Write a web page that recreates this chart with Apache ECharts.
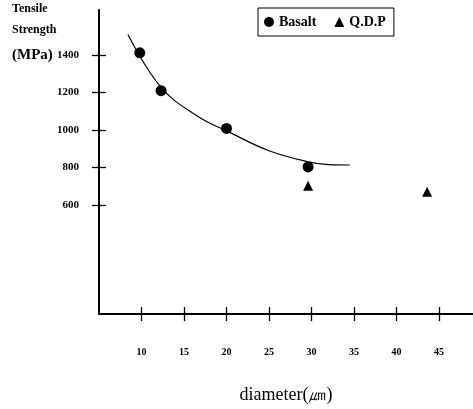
<!DOCTYPE html>
<html>
<head>
<meta charset="utf-8">
<script src="https://cdn.jsdelivr.net/npm/echarts@6/dist/echarts.min.js"></script>
<style>
  html, body { margin: 0; padding: 0; background: #fff; }
  #chartBox { width: 473px; height: 409px; }
</style>
</head>
<body>
<div id="chartBox"></div>
<script>
// values
var basaltPts = [[9.8, 1412], [12.3, 1210], [20.0, 1009], [29.6, 804]];
var qdpPts = [[29.6, 704], [43.6, 672]];
var fitCurve = [[8.4, 1509], [12.3, 1228], [16.5, 1077], [20.5, 985], [25.0, 890],
  [29.5, 832], [32.0, 816], [34.5, 814]];
var xTicks = [10, 15, 20, 25, 30, 35, 40, 45];
var yTicks = [600, 800, 1000, 1200, 1400];

var serif = 'Liberation Serif';
var chart = echarts.init(document.getElementById('chartBox'));

function xAx(inner) {
  return {
    type: 'value', min: 5, max: 49, position: 'bottom',
    splitLine: { show: false },
    axisLine: { show: !inner, lineStyle: { color: '#000', width: 2 } },
    axisTick: { show: true, inside: inner, length: 7, customValues: xTicks,
      lineStyle: { color: '#000', width: 1.3 } },
    axisLabel: { show: !inner, customValues: xTicks, margin: 33, color: '#000',
      fontFamily: serif, fontWeight: 'bold', fontSize: 10 },
    name: inner ? '' : 'diameter(㎛)',
    nameLocation: 'middle', nameGap: 72,
    nameTextStyle: { color: '#000', fontFamily: serif, fontSize: 18 }
  };
}
function yAx(inner) {
  return {
    type: 'value', min: 20, max: 1640, position: 'left',
    splitLine: { show: false },
    axisLine: { show: !inner, lineStyle: { color: '#000', width: 2 } },
    axisTick: { show: true, inside: inner, length: 7, customValues: yTicks,
      lineStyle: { color: '#000', width: 1.3 } },
    axisLabel: { show: !inner, customValues: yTicks, margin: 20, color: '#000',
      fontFamily: serif, fontWeight: 'bold', fontSize: 11,
      formatter: function (v) { return String(v); } }
  };
}

var option = {
  animation: false,
  grid: { left: 99, right: 0, top: 10, bottom: 91, containLabel: false },
  xAxis: [xAx(false), xAx(true)],
  yAxis: [yAx(false), yAx(true)],
  legend: {
    left: 258, top: 8,
    padding: [7, 8, 7, 6],
    borderColor: '#000', borderWidth: 1,
    itemWidth: 10, itemHeight: 10, itemGap: 18,
    textStyle: { color: '#000', fontFamily: serif, fontWeight: 'bold', fontSize: 14 },
    data: [
      { name: 'Basalt', icon: 'circle' },
      { name: 'Q.D.P', icon: 'triangle' }
    ]
  },
  graphic: [{
    type: 'text', left: 12, top: 3,
    style: {
      text: '{a|Tensile}\n{a|Strength}\n{b|(MPa)}',
      rich: {
        a: { fontFamily: serif, fontWeight: 'bold', fontSize: 12, lineHeight: 21, fill: '#000' },
        b: { fontFamily: serif, fontWeight: 'bold', fontSize: 15, lineHeight: 29, fill: '#000' }
      }
    }
  }],
  series: [
    {
      name: 'fit', type: 'line', data: fitCurve, smooth: 0.4,
      showSymbol: false, symbol: 'none', silent: true,
      lineStyle: { color: '#000', width: 1.2 }
    },
    {
      name: 'Basalt', type: 'scatter', data: basaltPts,
      symbol: 'circle', symbolSize: 11, itemStyle: { color: '#000', opacity: 1 }
    },
    {
      name: 'Q.D.P', type: 'scatter', data: qdpPts,
      symbol: 'triangle', symbolSize: 10, itemStyle: { color: '#000', opacity: 1 }
    }
  ]
};
chart.setOption(option);
</script>
</body>
</html>
